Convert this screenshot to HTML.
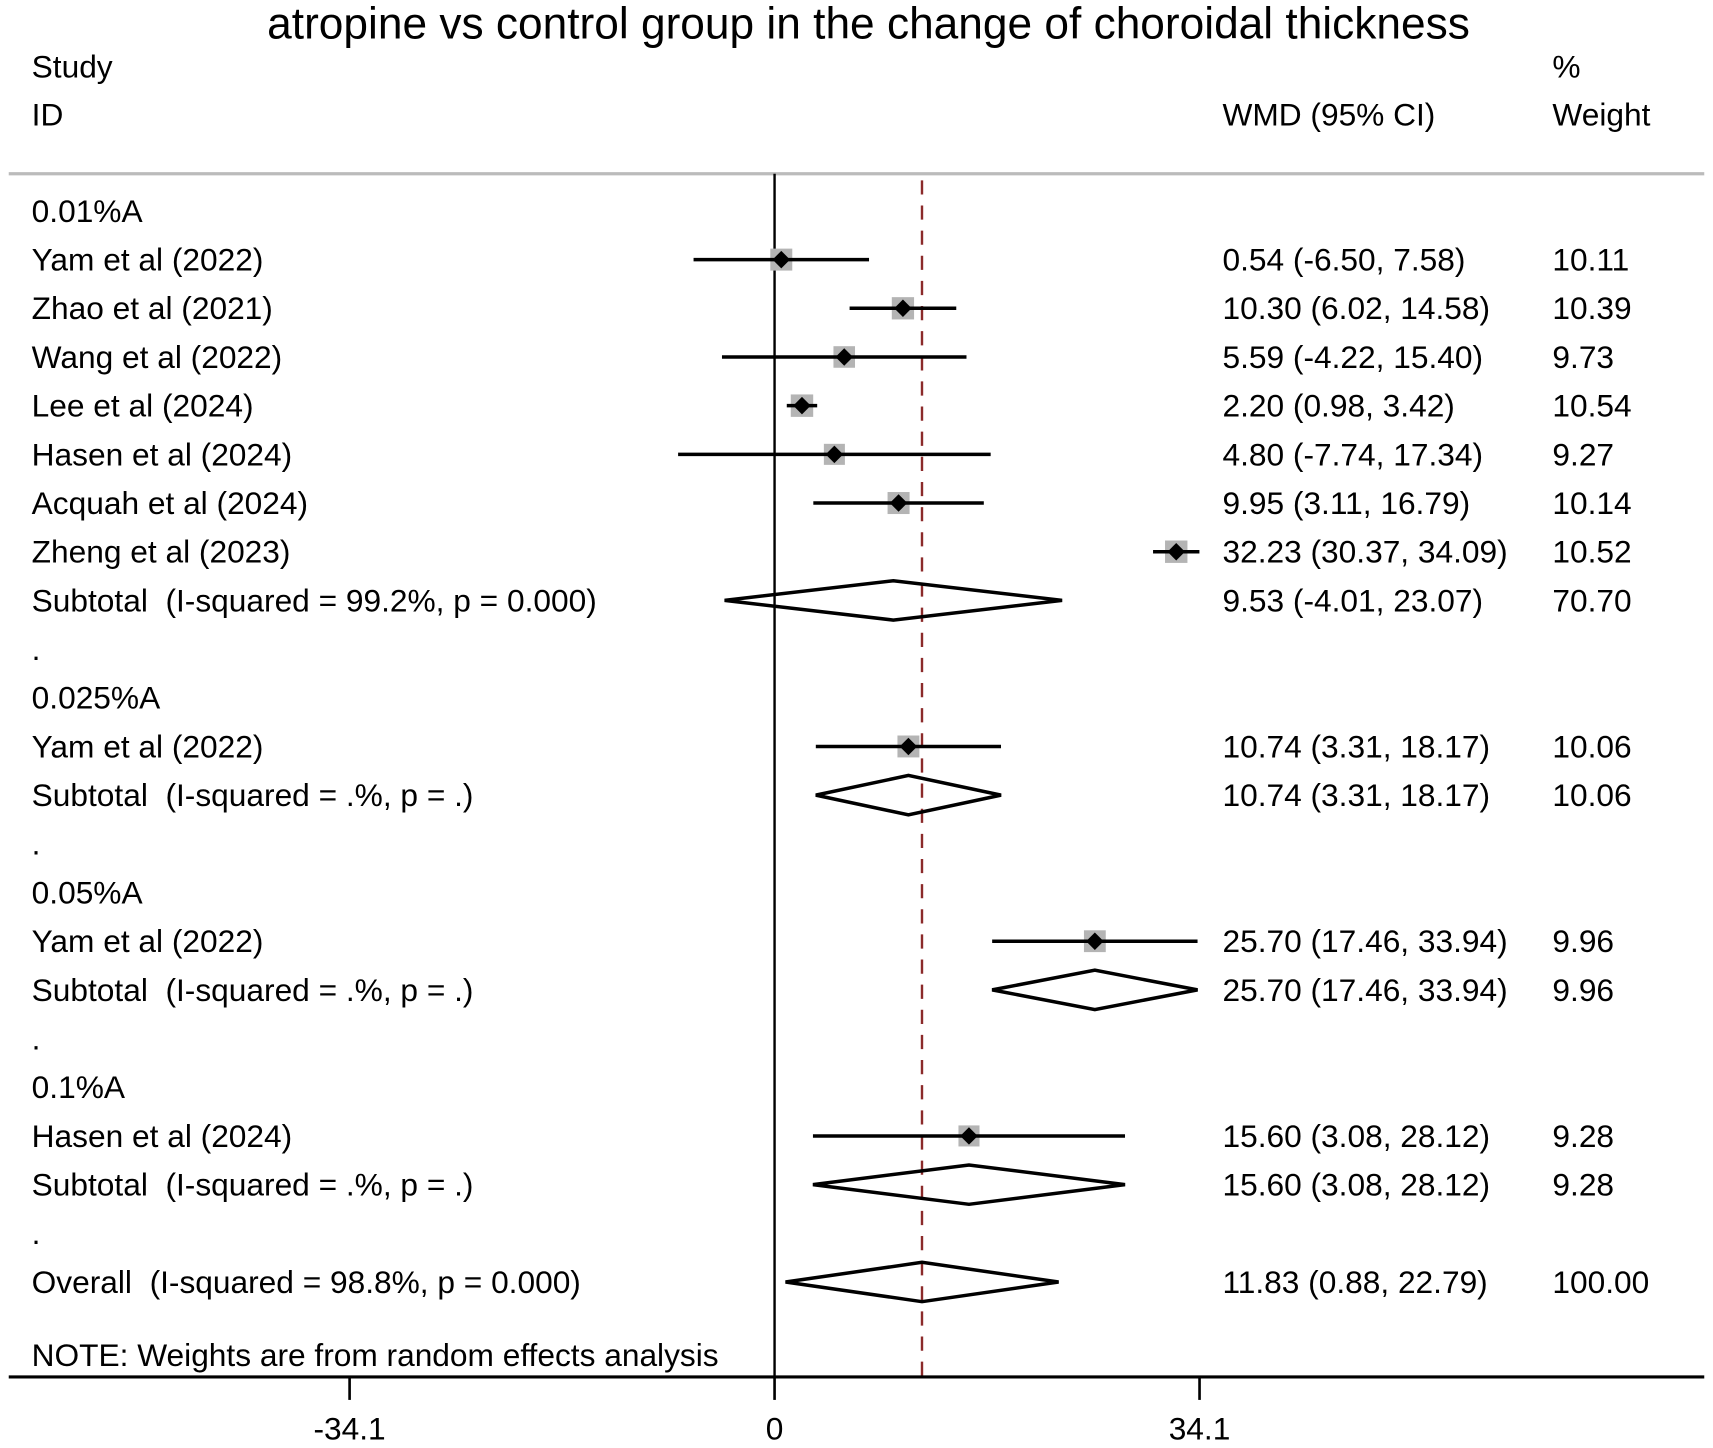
<!DOCTYPE html>
<html><head><meta charset="utf-8"><style>
html,body{margin:0;padding:0;background:#fff;}
svg{display:block;font-family:"Liberation Sans",Arial,sans-serif;}
text{white-space:pre;}
</style></head><body>
<svg id="chart" width="1713" height="1448" viewBox="0 0 1568 1325" preserveAspectRatio="none" xmlns="http://www.w3.org/2000/svg">
<rect width="1568" height="1325" fill="#fff"/>
<text x="795" y="35" font-size="40.5" text-anchor="middle">atropine vs control group in the change of choroidal thickness</text>
<text x="29" y="71" font-size="29">Study</text>
<text x="29" y="115" font-size="29">ID</text>
<text x="1119" y="115" font-size="29">WMD (95% CI)</text>
<text x="1421" y="71" font-size="29">%</text>
<text x="1421" y="115" font-size="29">Weight</text>
<line x1="8" y1="159" x2="1560" y2="159" stroke="#bbb" stroke-width="3"/>
<g id="marks"></g>
</svg>
<script>
const rowLabels = ["0.01%A","Yam et al (2022)","Zhao et al (2021)","Wang et al (2022)","Lee et al (2024)","Hasen et al (2024)","Acquah et al (2024)","Zheng et al (2023)","Subtotal  (I-squared = 99.2%, p = 0.000)",".","0.025%A","Yam et al (2022)","Subtotal  (I-squared = .%, p = .)",".","0.05%A","Yam et al (2022)","Subtotal  (I-squared = .%, p = .)",".","0.1%A","Hasen et al (2024)","Subtotal  (I-squared = .%, p = .)",".","Overall  (I-squared = 98.8%, p = 0.000)"];
const rowTypes = ["h","s","s","s","s","s","s","s","d","h","h","s","d","h","h","s","d","h","h","s","d","h","d"];
const estimates = [null,0.54,10.30,5.59,2.20,4.80,9.95,32.23,9.53,null,null,10.74,10.74,null,null,25.70,25.70,null,null,15.60,15.60,null,11.83];
const lowers = [null,-6.50,6.02,-4.22,0.98,-7.74,3.11,30.37,-4.01,null,null,3.31,3.31,null,null,17.46,17.46,null,null,3.08,3.08,null,0.88];
const uppers = [null,7.58,14.58,15.40,3.42,17.34,16.79,34.09,23.07,null,null,18.17,18.17,null,null,33.94,33.94,null,null,28.12,28.12,null,22.79];
const weights = [null,10.11,10.39,9.73,10.54,9.27,10.14,10.52,70.70,null,null,10.06,10.06,null,null,9.96,9.96,null,null,9.28,9.28,null,100.00];
const ciLabels = ["","0.54 (-6.50, 7.58)","10.30 (6.02, 14.58)","5.59 (-4.22, 15.40)","2.20 (0.98, 3.42)","4.80 (-7.74, 17.34)","9.95 (3.11, 16.79)","32.23 (30.37, 34.09)","9.53 (-4.01, 23.07)","","","10.74 (3.31, 18.17)","10.74 (3.31, 18.17)","","","25.70 (17.46, 33.94)","25.70 (17.46, 33.94)","","","15.60 (3.08, 28.12)","15.60 (3.08, 28.12)","","11.83 (0.88, 22.79)"];
const weightLabels = ["","10.11","10.39","9.73","10.54","9.27","10.14","10.52","70.70","","","10.06","10.06","","","9.96","9.96","","","9.28","9.28","","100.00"];
const tickValues = [-34.1,0,34.1];
const tickLabels = ["-34.1","0","34.1"];
const overallEffect = 11.83;

const NS="http://www.w3.org/2000/svg";
const g=document.getElementById('marks');
const x=v=>709+(v/34.1)*389;
const y=i=>193+i*44.55;
function mk(tag,attrs){const e=document.createElementNS(NS,tag);for(const k in attrs)e.setAttribute(k,attrs[k]);g.appendChild(e);return e;}

let e=mk('line',{x1:x(0),y1:159,x2:x(0),y2:1260,stroke:'#000','stroke-width':2.2});


e=mk('line',{x1:x(overallEffect),y1:165,x2:x(overallEffect),y2:1260,stroke:'#8b2a2a','stroke-width':2.2,'stroke-dasharray':'13 10'});



rowLabels.forEach((lab,i)=>{
  const cy=y(i);
  const t=mk('text',{x:29,y:cy+10,'font-size':29});
  t.textContent=lab;
  
  
  if(ciLabels[i]){
    const c=mk('text',{x:1119,y:cy+10,'font-size':29});c.textContent=ciLabels[i];
    
    
    const w=mk('text',{x:1421,y:cy+10,'font-size':29});w.textContent=weightLabels[i];
    
    
  }
  if(rowTypes[i]==='s'){
    const s=20*Math.sqrt(weights[i]/10);
    const b=mk('rect',{x:x(estimates[i])-s/2,y:cy-s/2,width:s,height:s,fill:'#b4b4b4'});
    
    
    const l=mk('line',{x1:x(lowers[i]),y1:cy,x2:x(uppers[i]),y2:cy,stroke:'#000','stroke-width':3.2});
    
    
    const px=x(estimates[i]);
    const d=mk('polygon',{points:`${px-8},${cy} ${px},${cy-8} ${px+8},${cy} ${px},${cy+8}`,fill:'#000'});
    
    
  } else if(rowTypes[i]==='d'){
    const px=x(estimates[i]);
    const d=mk('polygon',{points:`${x(lowers[i])},${cy} ${px},${cy-18} ${x(uppers[i])},${cy} ${px},${cy+18}`,fill:'none',stroke:'#000','stroke-width':3.2});
    
    
  }
});

const note=mk('text',{x:29,y:1250,'font-size':29});note.textContent='NOTE: Weights are from random effects analysis';



e=mk('line',{x1:8,y1:1260,x2:1560,y2:1260,stroke:'#000','stroke-width':2.8});


tickValues.forEach((v,i)=>{
  const tk=mk('line',{x1:x(v),y1:1260,x2:x(v),y2:1281,stroke:'#000','stroke-width':2.4});
  
  
  const tl=mk('text',{x:x(v),y:1317,'font-size':29,'text-anchor':'middle'});tl.textContent=tickLabels[i];
  
  
});
</script>
</body></html>
